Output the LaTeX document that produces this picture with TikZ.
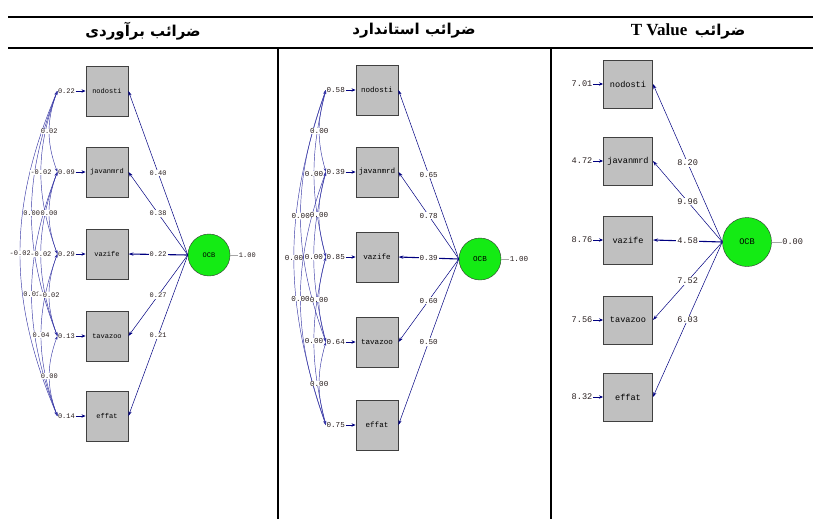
\documentclass[tikz,border=0pt]{standalone}
\usepackage{fontspec}
\setmainfont{Liberation Serif}
\setmonofont{Liberation Mono}
\newfontfamily\persianfont[Script=Arabic]{DejaVu Sans}
\TeXXeTstate=1
\usetikzlibrary{positioning,arrows.meta}
\definecolor{LISnavy}{RGB}{0,0,128}
\definecolor{LISblue}{RGB}{55,55,165}
\definecolor{LISgray}{RGB}{192,192,192}
\definecolor{LISgreen}{RGB}{20,235,20}
\definecolor{LIStext}{RGB}{40,30,30}
\tikzset{
  tabrule/.style={line width=1.6pt},
  header/.style={font=\fontsize{15}{17}\selectfont\bfseries, inner sep=0pt},
  obsbox/.style={draw=black!75, fill=LISgray, line width=0.9pt, minimum width=42pt, minimum height=50pt, inner sep=0pt},
  latent/.style={circle, draw=black!80, fill=LISgreen, minimum size=42pt, inner sep=0pt},
  errlab/.style={inner sep=0.5pt, text=LIStext},
  loadlab/.style={fill=white, inner sep=1pt, text=LIStext},
  covlab/.style={fill=white, inner sep=0.3pt, text=LIStext},
  varlab/.style={inner sep=0.5pt, text=LIStext},
  errarrow/.style={-{Stealth[length=4pt,width=3.4pt]}, LISnavy, line width=1pt},
  load/.style={-{Stealth[length=5pt,width=3.2pt]}, LISnavy, line width=0.5pt},
  cov/.style={{Stealth[length=4pt,width=2.6pt]}-{Stealth[length=4pt,width=2.6pt]}, LISblue, line width=0.45pt},
  varline/.style={draw=black!35, line width=0.6pt}
}
% one indicator: box, error term and loading
\newcommand{\drawitem}[7][]{
  \node[obsbox] (#2) at (#3) {#4};
  \node[errlab, left=10pt of #2] (#2e) {#5};
  \draw[errarrow] (#2e) -- (#2);
  \draw[load, #1] (#7.west) -- node[loadlab] {#6} (#2.east);
}
% covariance between two error terms
\newcommand{\drawcov}[4][20]{
  \draw[cov] (#2e.west) to[bend right=#1] node[covlab] {#4} (#3e.west);
}

\begin{document}
\begin{tikzpicture}[x=1pt, y=-1pt]
\useasboundingbox (0,0) rectangle (813,519);
%Table
\draw[tabrule] (8,17) -- (813,17);
\draw[tabrule] (8,48) -- (813,48);
\draw[tabrule] (278,48) -- (278,519);
\draw[tabrule] (551,48) -- (551,519);
\node[header] (head1) at (143,31) {\persianfont\beginR ضرائب برآوردی\endR};
\node[header] (head2) at (414,31) {\persianfont\beginR ضرائب استاندارد\endR};
\node[header] (head3) at (688,31) {\beginR{\persianfont ضرائب}\ \ \beginL{\fontsize{17}{18}\selectfont T Value}\endL\endR};

%Estimates
\begin{scope}[every node/.append style={font=\fontsize{7}{8}\selectfont\ttfamily}]
\node[latent] (ocbA) at (209,255) {OCB};
\node[varlab, right=8pt of ocbA] (ocbAv) {1.00};
\draw[varline] (ocbA) -- (ocbAv);
\drawitem{a1}{107,91}{nodosti}{0.22}{0.40}{ocbA}
\drawitem{a2}{107,172}{javanmrd}{0.09}{0.38}{ocbA}
\drawitem[line width=1.1pt]{a3}{107,254}{vazife}{0.29}{0.22}{ocbA}
\drawitem{a4}{107,336}{tavazoo}{0.13}{0.27}{ocbA}
\drawitem{a5}{107,416}{effat}{0.14}{0.21}{ocbA}
\drawcov[23]{a1}{a5}{-0.02}
\drawcov[21]{a1}{a4}{0.00}
\drawcov[21]{a2}{a5}{0.01}
\drawcov{a1}{a3}{-0.02}
\drawcov{a2}{a4}{-0.02}
\drawcov{a3}{a5}{0.04}
\drawcov{a1}{a2}{0.02}
\drawcov{a2}{a3}{0.00}
\drawcov{a3}{a4}{-0.02}
\drawcov{a4}{a5}{0.00}
\end{scope}

%Standardized
\begin{scope}[every node/.append style={font=\fontsize{7.6}{8}\selectfont\ttfamily}]
\node[latent] (ocbB) at (480,259) {OCB};
\node[varlab, right=8pt of ocbB] (ocbBv) {1.00};
\draw[varline] (ocbB) -- (ocbBv);
\drawitem{b1}{377,90}{nodosti}{0.58}{0.65}{ocbB}
\drawitem{b2}{377,172}{javanmrd}{0.39}{0.78}{ocbB}
\drawitem[line width=1.1pt]{b3}{377,257}{vazife}{0.85}{0.39}{ocbB}
\drawitem{b4}{377,342}{tavazoo}{0.64}{0.60}{ocbB}
\drawitem{b5}{377,425}{effat}{0.75}{0.50}{ocbB}
\drawcov[19]{b1}{b5}{0.00}
\drawcov[20]{b1}{b4}{0.00}
\drawcov[20]{b2}{b5}{0.00}
\drawcov[14]{b1}{b3}{0.00}
\drawcov[14]{b2}{b4}{0.00}
\drawcov[14]{b3}{b5}{0.00}
\drawcov[16]{b1}{b2}{0.00}
\drawcov[16]{b2}{b3}{0.00}
\drawcov[16]{b3}{b4}{0.00}
\drawcov[16]{b4}{b5}{0.00}
\end{scope}

%T values
\begin{scope}[every node/.append style={font=\fontsize{8.6}{9}\selectfont\ttfamily},
  obsbox/.append style={minimum width=49pt, minimum height=48pt},
  latent/.append style={minimum size=49pt}]
\node[latent] (ocbC) at (747,242) {OCB};
\node[varlab, right=10pt of ocbC] (ocbCv) {0.00};
\draw[varline] (ocbC) -- (ocbCv);
\drawitem{c1}{628,84}{nodosti}{7.01}{8.20}{ocbC}
\drawitem{c2}{628,161}{javanmrd}{4.72}{9.96}{ocbC}
\drawitem[line width=1.1pt]{c3}{628,240}{vazife}{8.76}{4.58}{ocbC}
\drawitem{c4}{628,320}{tavazoo}{7.56}{7.52}{ocbC}
\drawitem{c5}{628,397}{effat}{8.32}{6.03}{ocbC}
\end{scope}
\end{tikzpicture}
\end{document}
